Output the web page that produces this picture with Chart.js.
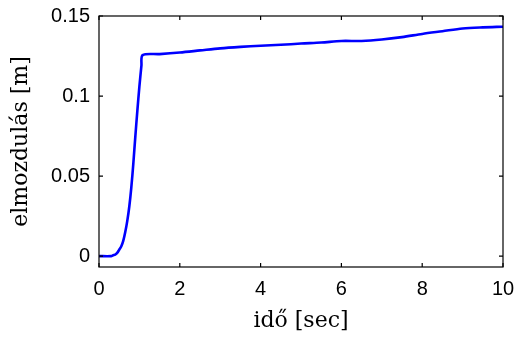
<!DOCTYPE html>
<html>
<head>
<meta charset="utf-8">
<script src="https://cdn.jsdelivr.net/npm/chart.js@4/dist/chart.umd.min.js"></script>
<style>
  body { margin: 0; background: #fff; }
  #c { display: block; }
</style>
</head>
<body>
<canvas id="c" width="518" height="338"></canvas>
<script>
// measured displacement vs time
const times = [0, 0.3, 0.35, 0.4, 0.45, 0.5, 0.55, 0.6, 0.65, 0.7, 0.75, 0.8, 0.85, 0.9, 0.95, 1.0, 1.05, 1.08, 1.5, 2, 2.5, 3, 3.5, 4, 4.5, 5, 5.5, 6, 6.5, 7, 7.5, 8, 8.5, 9, 9.5, 10];
const displacement = [0, 0, 0.0005, 0.001, 0.002, 0.004, 0.006, 0.0095, 0.015, 0.022, 0.031, 0.043, 0.058, 0.075, 0.091, 0.106, 0.119, 0.1256, 0.1262, 0.1272, 0.1285, 0.1298, 0.1307, 0.1314, 0.132, 0.1328, 0.1334, 0.1344, 0.1344, 0.1353, 0.1368, 0.1388, 0.1405, 0.1422, 0.1429, 0.1433];
const xTicks = [0, 2, 4, 6, 8, 10];
const yTicks = [0, 0.05, 0.1, 0.15];

const points = times.map((t, i) => ({ x: t, y: displacement[i] }));

// matlab style box with inward ticks
const boxPlugin = {
  id: 'box',
  afterDraw(chart) {
    const { ctx, chartArea: a, scales } = chart;
    ctx.save();
    ctx.strokeStyle = '#000';
    ctx.lineWidth = 1.2;
    ctx.strokeRect(a.left, a.top, a.right - a.left, a.bottom - a.top);
    const len = 4;
    ctx.beginPath();
    xTicks.forEach(v => {
      const px = scales.x.getPixelForValue(v);
      ctx.moveTo(px, a.bottom); ctx.lineTo(px, a.bottom - len);
      ctx.moveTo(px, a.top); ctx.lineTo(px, a.top + len);
    });
    yTicks.forEach(v => {
      const py = scales.y.getPixelForValue(v);
      ctx.moveTo(a.left, py); ctx.lineTo(a.left + len, py);
      ctx.moveTo(a.right, py); ctx.lineTo(a.right - len, py);
    });
    ctx.stroke();
    ctx.restore();
  }
};

const tickFont = { family: '"Liberation Sans", Arial, sans-serif', size: 20 };
const titleFont = { family: '"DejaVu Serif", serif', size: 22 };

new Chart(document.getElementById('c'), {
  type: 'line',
  data: {
    datasets: [{
      data: points,
      borderColor: '#0000ff',
      borderWidth: 2.6,
      pointRadius: 0,
      tension: 0.3,
      fill: false
    }]
  },
  options: {
    responsive: false,
    animation: false,
    layout: { padding: { top: 16, right: 15, left: 0, bottom: 0 } },
    plugins: { legend: { display: false }, tooltip: { enabled: false } },
    scales: {
      x: {
        type: 'linear', min: 0, max: 10,
        afterBuildTicks: s => { s.ticks = xTicks.map(v => ({ value: v })); },
        afterFit: s => { s.height = 71; s.paddingLeft = 0; s.paddingRight = 0; },
        grid: { display: false, drawTicks: false },
        border: { display: false },
        ticks: { color: '#000', font: tickFont, padding: 10, maxRotation: 0 },
        title: { display: true, text: 'idő [sec]', color: '#000', font: titleFont, padding: { top: 4, bottom: 4 } }
      },
      y: {
        type: 'linear', min: -0.0068, max: 0.15,
        afterBuildTicks: s => { s.ticks = yTicks.map(v => ({ value: v })); },
        afterFit: s => { s.width = 99; s.paddingTop = 0; s.paddingBottom = 0; },
        grid: { display: false, drawTicks: false },
        border: { display: false },
        ticks: { color: '#000', font: tickFont, padding: 9, callback: v => String(v) },
        title: { display: true, text: 'elmozdulás [m]', color: '#000', font: titleFont, padding: { top: 8, bottom: 0 } }
      }
    }
  },
  plugins: [boxPlugin]
});
</script>
</body>
</html>
